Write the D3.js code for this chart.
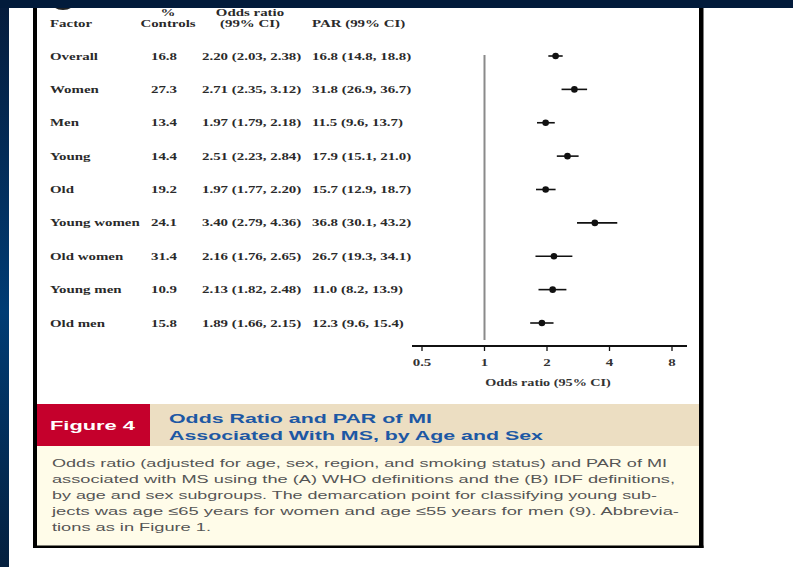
<!DOCTYPE html>
<html>
<head>
<meta charset="utf-8">
<script src="https://cdn.jsdelivr.net/npm/d3@7"></script>
<style>
  html, body { margin: 0; padding: 0; background: #fff; }
  svg { display: block; }
</style>
</head>
<body>
<svg id="chart" width="793" height="567"></svg>
<script>
// Subgroups of the forest plot
const factors = ["Overall", "Women", "Men", "Young", "Old", "Young women", "Old women", "Young men", "Old men"];
const pctControls = ["16.8", "27.3", "13.4", "14.4", "19.2", "24.1", "31.4", "10.9", "15.8"];
const oddsRatio = [2.20, 2.71, 1.97, 2.51, 1.97, 3.40, 2.16, 2.13, 1.89];
const ciLow = [2.03, 2.35, 1.79, 2.23, 1.77, 2.79, 1.76, 1.82, 1.66];
const ciHigh = [2.38, 3.12, 2.18, 2.84, 2.20, 4.36, 2.65, 2.48, 2.15];
const parText = ["16.8 (14.8, 18.8)", "31.8 (26.9, 36.7)", "11.5 (9.6, 13.7)", "17.9 (15.1, 21.0)",
                 "15.7 (12.9, 18.7)", "36.8 (30.1, 43.2)", "26.7 (19.3, 34.1)", "11.0 (8.2, 13.9)",
                 "12.3 (9.6, 15.4)"];
const axisTicks = [0.5, 1, 2, 4, 8];
const captionLines = [
  "Odds ratio (adjusted for age, sex, region, and smoking status) and PAR of MI",
  "associated with MS using the (A) WHO definitions and the (B) IDF definitions,",
  "by age and sex subgroups. The demarcation point for classifying young sub-",
  "jects was age \u226465 years for women and age \u226455 years for men (9). Abbrevia-",
  "tions as in Figure 1."
];

const fmt2 = d3.format(".2f");
const rows = factors.map((f, i) => ({
  factor: f, pct: pctControls[i], or: oddsRatio[i], lo: ciLow[i], hi: ciHigh[i], par: parText[i]
}));

const svg = d3.select("#chart");
const W = 793, H = 567;

// ---- page backdrop ----
const defs = svg.append("defs");
const g1 = defs.append("linearGradient").attr("id", "strip").attr("x1", 0).attr("y1", 0).attr("x2", 0).attr("y2", 1);
g1.append("stop").attr("offset", "0%").attr("stop-color", "#061c3c");
g1.append("stop").attr("offset", "55%").attr("stop-color", "#003c74");
g1.append("stop").attr("offset", "100%").attr("stop-color", "#05203f");

svg.append("rect").attr("x", 0).attr("y", 0).attr("width", W).attr("height", H).attr("fill", "#ffffff");

// figure panel: caption banner and body
svg.append("rect").attr("x", 36).attr("y", 446).attr("width", 664).attr("height", 100).attr("fill", "#fffce9");
svg.append("rect").attr("x", 36).attr("y", 404).attr("width", 664).attr("height", 42).attr("fill", "#ecdec2");
svg.append("rect").attr("x", 36).attr("y", 404).attr("width", 114).attr("height", 42).attr("fill", "#c5002c");

// panel letter badge peeking under the top edge
svg.append("ellipse").attr("cx", 63).attr("cy", 2).attr("rx", 11).attr("ry", 7)
  .attr("fill", "none").attr("stroke", "#222").attr("stroke-width", 2);

// ---- scales ----
const x = d3.scaleLog().base(2).domain([0.5, 8]).range([422, 672]);
const y = d3.scalePoint().domain(factors).range([56, 323]);

const serif = "'Liberation Serif', 'Times New Roman', serif";
const sans = "'Liberation Sans', Arial, sans-serif";
const SX = 1.42; // horizontally widened typesetting of the table

function wideText(parent, tx, ty, txt, anchor, size, weight, fill) {
  return parent.append("text")
    .attr("transform", `translate(${tx},${ty}) scale(${SX},1)`)
    .attr("text-anchor", anchor)
    .attr("font-family", serif)
    .attr("font-size", size)
    .attr("font-weight", weight)
    .attr("fill", fill)
    .text(txt);
}

// ---- table header ----
const table = svg.append("g");
const hc = "#2a2a2a";
wideText(table, 168, 16, "%", "middle", 10.5, "bold", hc);
wideText(table, 168, 27, "Controls", "middle", 10.5, "bold", hc);
wideText(table, 50, 27, "Factor", "start", 10.5, "bold", hc);
wideText(table, 250, 16, "Odds ratio", "middle", 10.5, "bold", hc);
wideText(table, 250, 27, "(99% CI)", "middle", 10.5, "bold", hc);
wideText(table, 312, 27, "PAR (99% CI)", "start", 10.5, "bold", hc);

// ---- table rows ----
rows.forEach(r => {
  const yy = y(r.factor) + 3.5;
  wideText(table, 50, yy, r.factor, "start", 10.5, "bold", hc);
  wideText(table, 177, yy, r.pct, "end", 10.5, "bold", hc);
  wideText(table, 202, yy, `${fmt2(r.or)} (${fmt2(r.lo)}, ${fmt2(r.hi)})`, "start", 10.5, "bold", hc);
  wideText(table, 312, yy, r.par, "start", 10.5, "bold", hc);
});

// ---- forest plot ----
const plot = svg.append("g");
// line of no effect
plot.append("line")
  .attr("x1", x(1)).attr("x2", x(1))
  .attr("y1", y(factors[0]) - 1).attr("y2", 340)
  .attr("stroke", "#8a8a8a").attr("stroke-width", 2);

// confidence intervals
plot.selectAll("line.ci").data(rows).join("line")
  .attr("class", "ci")
  .attr("x1", d => x(d.lo)).attr("x2", d => x(d.hi))
  .attr("y1", d => y(d.factor)).attr("y2", d => y(d.factor))
  .attr("stroke", "#111").attr("stroke-width", 1.6);

// point estimates
plot.selectAll("circle.or").data(rows).join("circle")
  .attr("class", "or")
  .attr("cx", d => x(d.or)).attr("cy", d => y(d.factor))
  .attr("r", 3.3).attr("fill", "#111");

// x axis
const axisY = 346;
plot.append("line")
  .attr("x1", x(0.5) - 10).attr("x2", x(8) + 15)
  .attr("y1", axisY).attr("y2", axisY)
  .attr("stroke", "#111").attr("stroke-width", 2);
plot.selectAll("line.tick").data(axisTicks).join("line")
  .attr("class", "tick")
  .attr("x1", d => x(d)).attr("x2", d => x(d))
  .attr("y1", axisY).attr("y2", axisY + 5)
  .attr("stroke", "#111").attr("stroke-width", 1.3);
axisTicks.forEach(t => {
  wideText(plot, x(t), 366, String(t), "middle", 10.5, "bold", "#333");
});
wideText(plot, 548, 386, "Odds ratio (95% CI)", "middle", 10, "bold", "#333");

// ---- caption ----
const cap = svg.append("g");
cap.append("text")
  .attr("x", 50).attr("y", 430)
  .attr("font-family", sans).attr("font-weight", "bold").attr("font-size", 13)
  .attr("fill", "#ffffff")
  .attr("textLength", 85).attr("lengthAdjust", "spacingAndGlyphs")
  .text("Figure 4");
const titleLines = ["Odds Ratio and PAR of MI", "Associated With MS, by Age and Sex"];
const titleLens = [263, 374];
titleLines.forEach((t, i) => {
  cap.append("text")
    .attr("x", 169).attr("y", 423 + i * 17)
    .attr("font-family", sans).attr("font-weight", "bold").attr("font-size", 13.5)
    .attr("fill", "#1d58a4")
    .attr("textLength", titleLens[i]).attr("lengthAdjust", "spacingAndGlyphs")
    .text(t);
});
const capLens = [615, 623, 605, 627, 159];
captionLines.forEach((t, i) => {
  cap.append("text")
    .attr("x", 52).attr("y", 467 + i * 16)
    .attr("font-family", sans).attr("font-size", 11.5)
    .attr("fill", "#555555")
    .attr("textLength", capLens[i]).attr("lengthAdjust", "spacingAndGlyphs")
    .text(t);
});

// ---- panel frame ----
svg.append("rect").attr("x", 33).attr("y", 0).attr("width", 4).attr("height", 548).attr("fill", "#000");
svg.append("rect").attr("x", 699).attr("y", 0).attr("width", 4.5).attr("height", 548).attr("fill", "#000");
svg.append("rect").attr("x", 33).attr("y", 545.5).attr("width", 670.5).attr("height", 2.5).attr("fill", "#000");

// ---- slide backdrop edges ----
svg.append("rect").attr("x", 0).attr("y", 0).attr("width", 9).attr("height", H).attr("fill", "url(#strip)");
svg.append("rect").attr("x", 0).attr("y", 0).attr("width", W).attr("height", 8).attr("fill", "#021b3b");
</script>
</body>
</html>
